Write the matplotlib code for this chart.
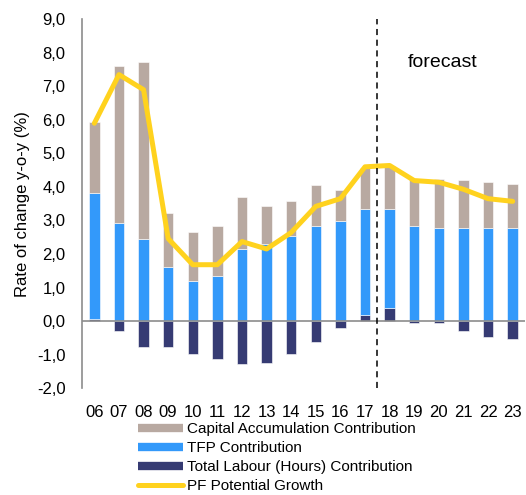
import numpy as np
import matplotlib
matplotlib.use("Agg")
import matplotlib.pyplot as plt
from matplotlib.lines import Line2D

plt.rcParams["font.family"] = ["Liberation Sans", "DejaVu Sans"]

years = ["06", "07", "08", "09", "10", "11", "12", "13", "14",
         "15", "16", "17", "18", "19", "20", "21", "22", "23"]
capital = [2.10, 4.67, 5.26, 1.63, 1.49, 1.47, 1.53, 1.13, 1.06,
           1.22, 0.92, 1.21, 1.28, 1.42, 1.48, 1.43, 1.38, 1.33]
tfp = [3.78, 2.93, 2.46, 1.60, 1.18, 1.35, 2.16, 2.30, 2.53,
       2.83, 2.98, 3.16, 2.96, 2.83, 2.77, 2.77, 2.77, 2.77]
labour = [0.05, -0.30, -0.78, -0.78, -0.99, -1.14, -1.29, -1.24, -0.99,
          -0.63, -0.22, 0.18, 0.38, -0.05, -0.05, -0.30, -0.48, -0.54]
pf_growth = [5.90, 7.35, 6.90, 2.46, 1.68, 1.68, 2.37, 2.15, 2.64,
             3.42, 3.65, 4.60, 4.64, 4.19, 4.14, 3.93, 3.65, 3.57]

col_cap = "#B8A9A1"
col_tfp = "#3399FA"
col_lab = "#363B73"
col_line = "#FFD21E"


def main():
    fig = plt.figure(figsize=(5.26, 4.95), dpi=100)
    ax = fig.add_axes([0.156, 0.216, 0.842, 0.745])

    x = np.arange(len(years))
    lab = np.array(labour)
    t = np.array(tfp)
    tfp_bottom = np.clip(lab, 0, None)
    cap_bottom = tfp_bottom + t
    w = 0.42

    ax.bar(x, lab, w, color=col_lab, edgecolor="white", linewidth=0.4, zorder=2)
    ax.bar(x, t, w, bottom=tfp_bottom, color=col_tfp, edgecolor="white", linewidth=0.4, zorder=2)
    ax.bar(x, capital, w, bottom=cap_bottom, color=col_cap, edgecolor="white", linewidth=0.4, zorder=2)
    ax.plot(x, pf_growth, color=col_line, lw=3.6, solid_joinstyle="round",
            solid_capstyle="round", zorder=4)

    ax.axhline(0, color="#8c8c8c", lw=1.2, zorder=3)
    ax.axvline(11.5, color="black", lw=1.1, ls=(0, (4, 3)), zorder=5)
    ax.text(12.75, 7.7, "forecast", fontsize=14, va="center")

    ax.set_xlim(-0.5, 17.5)
    ax.set_ylim(-2, 9)
    ax.set_xticks(x)
    ax.set_xticklabels(years, fontsize=12)
    ax.set_yticks(np.arange(-2, 10, 1))
    ax.set_yticklabels([f"{v:.1f}".replace(".", ",") for v in np.arange(-2, 10, 1)], fontsize=12)
    ax.tick_params(axis="x", length=0, pad=12)
    ax.tick_params(axis="y", length=0, pad=12)
    for s in ["top", "right", "bottom"]:
        ax.spines[s].set_visible(False)
    ax.spines["left"].set_color("#8c8c8c")
    ax.spines["left"].set_linewidth(1.2)
    ax.set_ylabel("Rate of change y-o-y (%)", fontsize=12, labelpad=5)

    handles = [
        Line2D([], [], color=col_cap, lw=6, solid_capstyle="butt"),
        Line2D([], [], color=col_tfp, lw=6, solid_capstyle="butt"),
        Line2D([], [], color=col_lab, lw=6, solid_capstyle="butt"),
        Line2D([], [], color=col_line, lw=3.6, solid_capstyle="round"),
    ]
    labels = ["Capital Accumulation Contribution", "TFP Contribution",
              "Total Labour (Hours) Contribution", "PF Potential Growth"]
    fig.legend(handles, labels, loc="upper left", bbox_to_anchor=(0.262, 0.147),
               frameon=False, fontsize=11, handlelength=2.95, handletextpad=0.26,
               labelspacing=0.33, borderpad=0, borderaxespad=0)

    fig.savefig("out.png", dpi=100)


if __name__ == "__main__":
    main()
